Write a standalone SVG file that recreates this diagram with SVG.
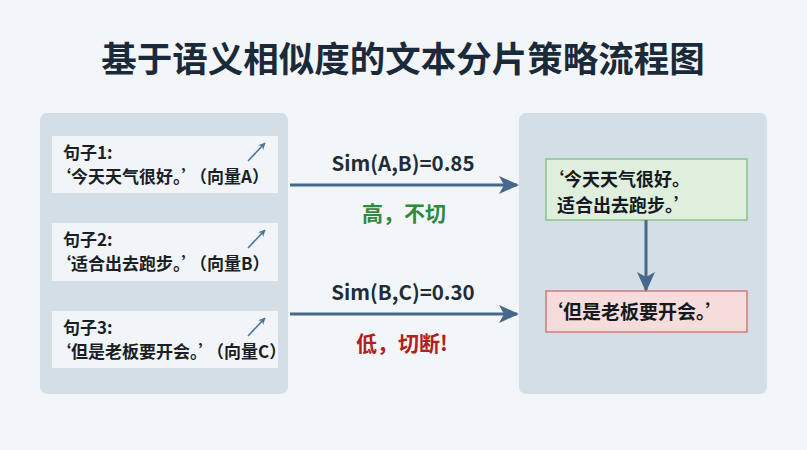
<svg xmlns="http://www.w3.org/2000/svg" width="807" height="450" viewBox="0 0 807 450">
<defs>
<marker id="ahBig" viewBox="0 0 10 10" refX="9" refY="5" markerWidth="20" markerHeight="18" markerUnits="userSpaceOnUse" orient="auto" preserveAspectRatio="none">
<path d="M0,0 L10,5 L0,10 L2.5,5 z" fill="#46698b"/>
</marker>
<marker id="sm" viewBox="0 0 10 10" refX="9" refY="5" markerWidth="7" markerHeight="7" markerUnits="userSpaceOnUse" orient="auto">
<path d="M0,0 L10,5 L0,10 L3,5 z" fill="#4f7596"/>
</marker>
</defs>
<style>
text { font-family: "Noto Sans CJK SC", "Noto Sans", sans-serif; font-weight: bold; }
.title { font-size: 35.5px; fill: #1b2a38; }
.panel { fill: #d3dee7; }
.sbox { fill: #f2f5f7; }
.stext { font-size: 17px; fill: #1a1f26; }
.vec { stroke: #4f7596; stroke-width: 1.6; fill: none; }
.conn { stroke: #46698b; stroke-width: 3; fill: none; }
.lbl { font-size: 20.5px; fill: #1f2d3a; text-anchor: middle; }
.hi { font-size: 21px; fill: #2e8a3c; text-anchor: middle; }
.lo { font-size: 21px; fill: #b0201f; text-anchor: middle; }
.rtext { font-size: 19px; fill: #141a20; }
.rtext2 { font-size: 18px; fill: #141a20; }
</style>
<rect x="0" y="0" width="807" height="450" fill="#f3f6f8"/>
<text class="title" x="403" y="72" text-anchor="middle">基于语义相似度的文本分片策略流程图</text>

<g id="left-panel">
<rect class="panel" x="40" y="113" width="248" height="281" rx="7"/>
</g>
<g id="sentence1">
<rect class="sbox" x="52" y="136" width="226" height="57"/>
<text class="stext" x="63" y="159">句子1:</text>
<text class="stext" x="54" y="183">‘今天天气很好。’（向量A）</text>
<line class="vec" x1="248" y1="161" x2="265" y2="143" marker-end="url(#sm)"/>
</g>
<g id="sentence2">
<rect class="sbox" x="52" y="223" width="226" height="58"/>
<text class="stext" x="63" y="246">句子2:</text>
<text class="stext" x="54" y="270">‘适合出去跑步。’（向量B）</text>
<line class="vec" x1="248" y1="248" x2="265" y2="230" marker-end="url(#sm)"/>
</g>
<g id="sentence3">
<rect class="sbox" x="52" y="311" width="226" height="57"/>
<text class="stext" x="63" y="334">句子3:</text>
<text class="stext" x="54" y="358">‘但是老板要开会。’（向量C）</text>
<line class="vec" x1="248" y1="336" x2="265" y2="318" marker-end="url(#sm)"/>
</g>

<g id="right-panel">
<rect class="panel" x="519" y="113" width="248" height="281" rx="7"/>
</g>
<g id="chunk1">
<rect x="546" y="159" width="201" height="61" fill="#dfeedd" stroke="#88c48c" stroke-width="1.5"/>
<text class="rtext2" x="546" y="186">‘今天天气很好。</text>
<text class="rtext2" x="557" y="212">适合出去跑步。’</text>
</g>
<g id="chunk2">
<rect x="546" y="291" width="201" height="41" fill="#f6dcdb" stroke="#d37b78" stroke-width="1.5"/>
<text class="rtext" x="544" y="319">‘但是老板要开会。’</text>
</g>

<g id="connectors">
<line class="conn" x1="290" y1="185" x2="517" y2="185" marker-end="url(#ahBig)"/>
<text class="lbl" x="403" y="171">Sim(A,B)=0.85</text>
<text class="hi" x="404" y="221">高，不切</text>
<line class="conn" x1="290" y1="314" x2="517" y2="314" marker-end="url(#ahBig)"/>
<text class="lbl" x="403" y="300">Sim(B,C)=0.30</text>
<text class="lo" x="402" y="351">低，切断!</text>
<line class="conn" x1="646" y1="220" x2="646" y2="290" marker-end="url(#ahBig)"/>
</g>
</svg>
